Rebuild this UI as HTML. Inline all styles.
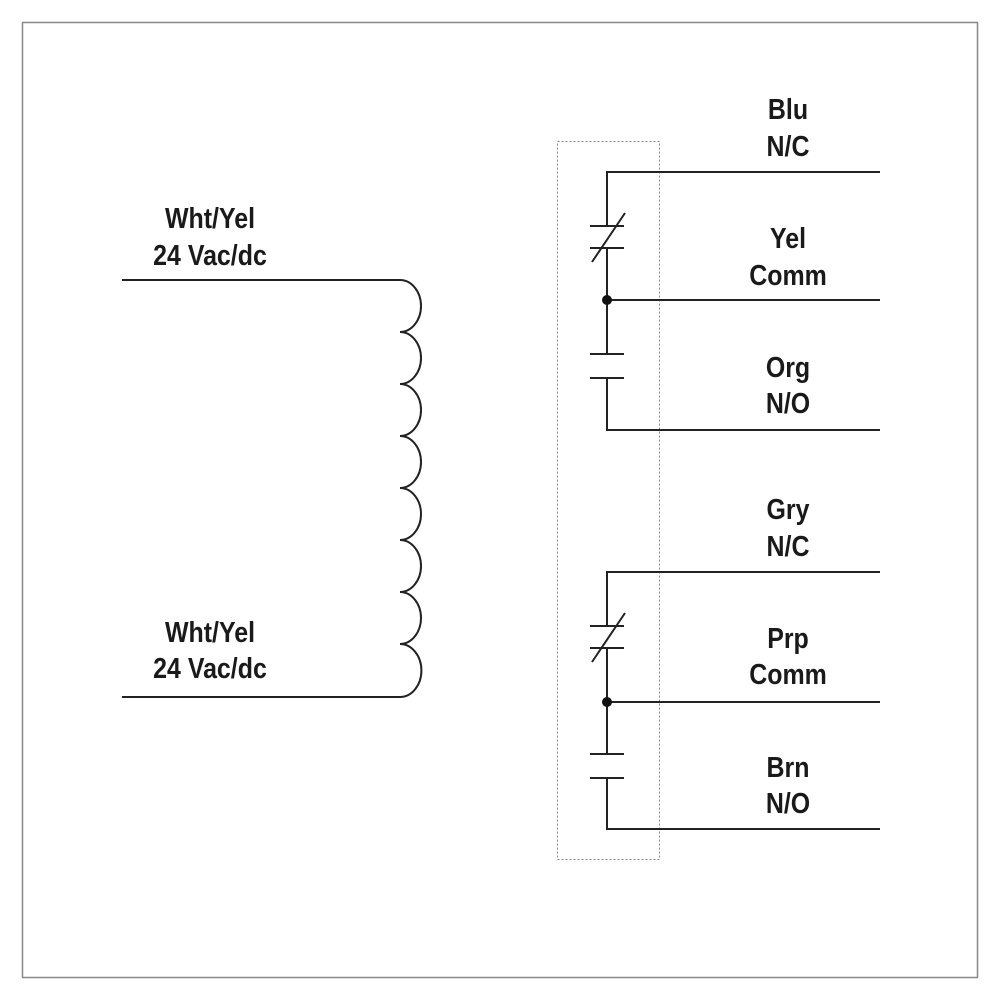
<!DOCTYPE html>
<html><head><style>
html,body{margin:0;padding:0;background:#fff;}
svg text{font-family:"Liberation Sans",sans-serif;font-weight:bold;font-size:29px;fill:#1a1a1a;}
</style></head><body>
<svg width="1000" height="1000" viewBox="0 0 1000 1000" xmlns="http://www.w3.org/2000/svg">
<rect x="22.5" y="22.5" width="955" height="955" fill="none" stroke="#888" stroke-width="1.5"/>
<rect x="557.5" y="141.5" width="102" height="718" fill="none" stroke="#888" stroke-width="1" stroke-dasharray="2,2"/>
<g stroke="#222" stroke-width="2" fill="none">
<line x1="122" y1="280" x2="400" y2="280"/>
<line x1="122" y1="697" x2="400" y2="697"/>
<path d="M400 280 a21 26 0 0 1 0 52 a21 26 0 0 1 0 52 a21 26 0 0 1 0 52 a21 26 0 0 1 0 52 a21 26 0 0 1 0 52 a21 26 0 0 1 0 52 a21 26 0 0 1 0 52 a21 26 0 0 1 0 53"/>
</g>
<g stroke="#222" stroke-width="2" fill="none">
<polyline points="880,172 607,172 607,226"/>
<line x1="590" y1="226" x2="624" y2="226"/>
<line x1="590" y1="248" x2="624" y2="248"/>
<line x1="592" y1="262" x2="625" y2="213"/>
<line x1="607" y1="248" x2="607" y2="354"/>
<line x1="607" y1="300" x2="880" y2="300"/>
<line x1="590" y1="354" x2="624" y2="354"/>
<line x1="590" y1="378" x2="624" y2="378"/>
<polyline points="607,378 607,430 880,430"/>
<circle cx="607" cy="300" r="5" fill="#111" stroke="none"/>
</g>
<g stroke="#222" stroke-width="2" fill="none">
<polyline points="880,572 607,572 607,626"/>
<line x1="590" y1="626" x2="624" y2="626"/>
<line x1="590" y1="648" x2="624" y2="648"/>
<line x1="592" y1="662" x2="625" y2="613"/>
<line x1="607" y1="648" x2="607" y2="754"/>
<line x1="607" y1="702" x2="880" y2="702"/>
<line x1="590" y1="754" x2="624" y2="754"/>
<line x1="590" y1="778" x2="624" y2="778"/>
<polyline points="607,778 607,829 880,829"/>
<circle cx="607" cy="702" r="5" fill="#111" stroke="none"/>
</g>
<g text-anchor="middle">
<text transform="translate(210,228) scale(0.86,1)">Wht/Yel</text>
<text transform="translate(210,265) scale(0.86,1)">24 Vac/dc</text>
<text transform="translate(210,642) scale(0.86,1)">Wht/Yel</text>
<text transform="translate(210,678) scale(0.86,1)">24 Vac/dc</text>
<text transform="translate(788,119) scale(0.86,1)">Blu</text>
<text transform="translate(788,156) scale(0.86,1)">N/C</text>
<text transform="translate(788,248) scale(0.86,1)">Yel</text>
<text transform="translate(788,285) scale(0.86,1)">Comm</text>
<text transform="translate(788,377) scale(0.86,1)">Org</text>
<text transform="translate(788,413) scale(0.86,1)">N/O</text>
<text transform="translate(788,519) scale(0.86,1)">Gry</text>
<text transform="translate(788,556) scale(0.86,1)">N/C</text>
<text transform="translate(788,648) scale(0.86,1)">Prp</text>
<text transform="translate(788,684) scale(0.86,1)">Comm</text>
<text transform="translate(788,777) scale(0.86,1)">Brn</text>
<text transform="translate(788,813) scale(0.86,1)">N/O</text>
</g>
</svg>
</body></html>
